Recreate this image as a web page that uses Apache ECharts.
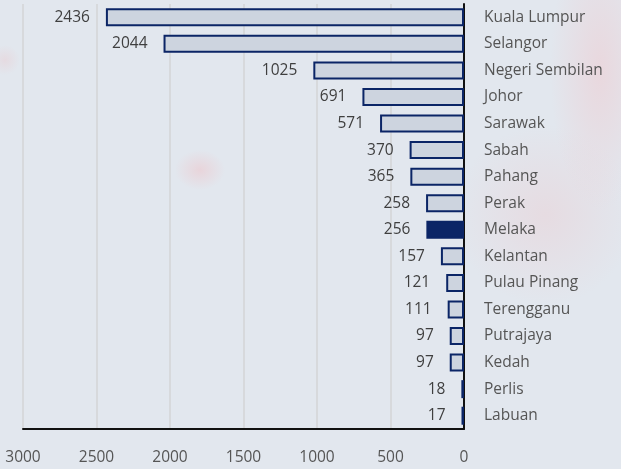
<!DOCTYPE html>
<html>
<head>
<meta charset="utf-8">
<script src="https://cdn.jsdelivr.net/npm/echarts@6/dist/echarts.min.js"></script>
<style>
  html, body { margin: 0; padding: 0; }
  body {
    width: 621px; height: 469px; overflow: hidden;
    background:
      radial-gradient(ellipse 25px 20px at 200px 170px, rgba(240,190,195,0.45), rgba(240,190,195,0) 100%),
      radial-gradient(ellipse 50px 140px at 600px 70px, rgba(240,200,205,0.5), rgba(240,200,205,0) 100%),
      radial-gradient(ellipse 90px 90px at 545px 215px, rgba(235,205,210,0.45), rgba(235,205,210,0) 100%),
      radial-gradient(ellipse 15px 15px at 5px 60px, rgba(235,200,205,0.4), rgba(235,200,205,0) 100%),
      #e2e7ee;
  }
  #chart { width: 621px; height: 469px; }
</style>
</head>
<body>
<div id="chart"></div>
<script>
  // states ordered top to bottom
  var states = ['Kuala Lumpur', 'Selangor', 'Negeri Sembilan', 'Johor', 'Sarawak', 'Sabah', 'Pahang', 'Perak',
    'Melaka', 'Kelantan', 'Pulau Pinang', 'Terengganu', 'Putrajaya', 'Kedah', 'Perlis', 'Labuan']
  var counts = [2436, 2044, 1025, 691, 571, 370, 365, 258, 256, 157, 121, 111, 97, 97, 18, 17]
  var highlight = 'Melaka'
  var xTicks = [0, 500, 1000, 1500, 2000, 2500, 3000]

  var navy = '#0b2566'
  var barData = counts.map(function (v, i) {
    var item = { value: v }
    if (states[i] === highlight) {
      item.itemStyle = { color: navy }
    }
    return item
  })

  var mychart = echarts.init(document.getElementById('chart'), null, { renderer: 'canvas' })
  var options = {
    backgroundColor: 'transparent',
    animation: false,
    textStyle: { fontFamily: 'Open Sans' },
    grid: { left: 23, right: 157, top: 4, bottom: 40 },
    xAxis: {
      type: 'value',
      inverse: true,
      min: xTicks[0],
      max: xTicks[xTicks.length - 1],
      interval: 500,
      position: 'bottom',
      axisLine: { show: true, lineStyle: { color: '#111', width: 2 } },
      axisTick: { show: false },
      axisLabel: { color: '#555', fontSize: 15.5, margin: 21, formatter: function (v) { return String(v) } },
      splitLine: { show: true, lineStyle: { color: '#d3d4d6', width: 1.5 } }
    },
    yAxis: {
      type: 'category',
      inverse: true,
      position: 'right',
      data: states,
      axisLine: { show: true, lineStyle: { color: '#111', width: 2 } },
      axisTick: { show: false },
      axisLabel: { color: '#555', fontSize: 15.5, margin: 20 }
    },
    series: [
      {
        type: 'bar',
        data: barData,
        barWidth: 18,
        itemStyle: {
          color: '#cdd4df',
          borderColor: navy,
          borderWidth: 2
        },
        label: {
          show: true,
          position: 'left',
          distance: 16,
          color: '#3f3f3f',
          fontSize: 15.5
        }
      }
    ]
  }
  mychart.setOption(options)
</script>
</body>
</html>
